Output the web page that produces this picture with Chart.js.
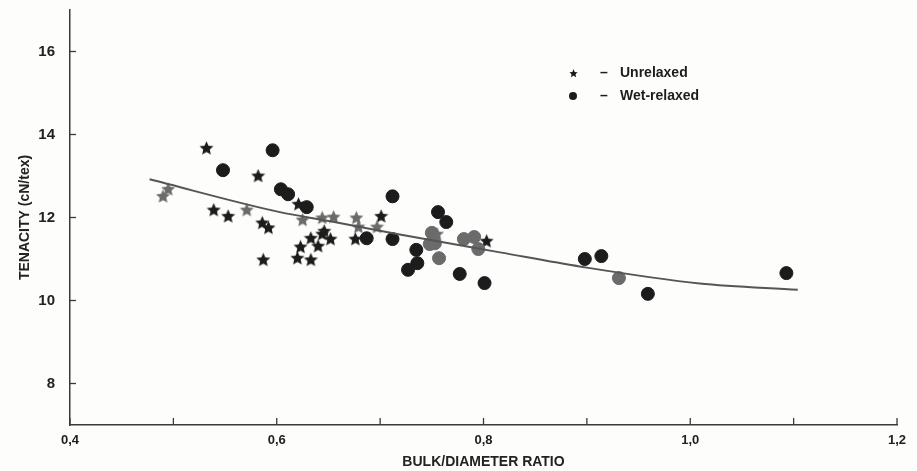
<!DOCTYPE html>
<html>
<head>
<meta charset="utf-8">
<script src="https://cdn.jsdelivr.net/npm/chart.js@4.4.1/dist/chart.umd.min.js"></script>
<style>
    html, body { margin: 0; padding: 0; background: #fdfdfb; }
    #wrap { width: 917px; height: 471px; }
</style>
</head>
<body>
<div id="wrap"><canvas id="scatterChart1"></canvas></div>
<script>
// valores (x = bulk/diameter, y = tenacity)
var unrelaxedDark = [
    [0.532, 13.67], [0.539, 12.18], [0.553, 12.03], [0.582, 13.00], [0.586, 11.87],
    [0.592, 11.75], [0.587, 10.98], [0.621, 12.32], [0.633, 11.50], [0.644, 11.60],
    [0.646, 11.67], [0.652, 11.48], [0.640, 11.31], [0.623, 11.29], [0.620, 11.02],
    [0.633, 10.98], [0.676, 11.48], [0.701, 12.03], [0.803, 11.43]
];
var unrelaxedGrey = [
    [0.490, 12.51], [0.495, 12.68], [0.571, 12.18], [0.625, 11.94], [0.644, 11.99],
    [0.655, 12.01], [0.677, 11.99], [0.679, 11.77], [0.697, 11.77], [0.755, 11.60]
];
var wetDark = [
    [0.548, 13.14], [0.596, 13.62], [0.604, 12.68], [0.611, 12.56], [0.629, 12.25],
    [0.687, 11.50], [0.712, 11.48], [0.712, 12.51], [0.756, 12.13], [0.764, 11.89],
    [0.735, 11.22], [0.736, 10.90], [0.727, 10.74], [0.777, 10.64], [0.801, 10.42],
    [0.898, 11.00], [0.914, 11.07], [0.959, 10.16], [1.093, 10.66]
];
var wetGrey = [
    [0.750, 11.63], [0.748, 11.36], [0.753, 11.38], [0.757, 11.02], [0.781, 11.48],
    [0.791, 11.53], [0.795, 11.24], [0.931, 10.54]
];
var fitCurve = [
    [0.477, 12.92], [0.603, 12.13], [0.652, 11.91], [0.719, 11.59], [0.816, 11.16],
    [0.893, 10.82], [1.009, 10.41], [1.104, 10.26]
];
var xTicks = [0.4, 0.6, 0.8, 1.0, 1.2];
var xMinorTicks = [0.5, 0.7, 0.9, 1.1];
var yTicks = [8, 10, 12, 14, 16];
var legendNames = ["Unrelaxed", "Wet-relaxed"];

function toPoints(arr) {
    return arr.map(function (p) { return { x: p[0], y: p[1] }; });
}

function makeStar(color) {
    var c = document.createElement("canvas");
    c.width = 15; c.height = 15;
    var g = c.getContext("2d");
    g.fillStyle = color;
    g.beginPath();
    for (var i = 0; i < 10; i++) {
        var r = i % 2 === 0 ? 7.4 : 3.4;
        var a = -Math.PI / 2 + i * Math.PI / 5;
        g.lineTo(7.5 + r * Math.cos(a), 7.8 + r * Math.sin(a));
    }
    g.closePath();
    g.fill();
    return c;
}

var DARK = "#1c1c1c";
var GREY = "#6b6b6b";
var starDark = makeStar(DARK);
var starGrey = makeStar(GREY);
var FONT = "'Liberation Sans', Arial, sans-serif";

// marcas hacia adentro de los ejes + leyenda
var extrasPlugin = {
    id: "extras",
    afterDraw: function (chart) {
        var ctx = chart.ctx;
        var xs = chart.scales.x, ys = chart.scales.y;
        var a = chart.chartArea;
        ctx.save();
        ctx.strokeStyle = "#3a3a3a";
        ctx.lineWidth = 1.3;
        xTicks.concat(xMinorTicks).forEach(function (v) {
            var px = xs.getPixelForValue(v);
            ctx.beginPath();
            ctx.moveTo(px, a.bottom);
            ctx.lineTo(px, a.bottom - 7);
            ctx.stroke();
        });
        yTicks.forEach(function (v) {
            var py = ys.getPixelForValue(v);
            ctx.beginPath();
            ctx.moveTo(a.left, py);
            ctx.lineTo(a.left + 6, py);
            ctx.stroke();
        });

        // leyenda
        var lx = a.left + 503, ly = a.top + 63;
        ctx.drawImage(starDark, lx - 4, ly - 4, 9, 9);
        ctx.fillStyle = DARK;
        ctx.beginPath();
        ctx.arc(lx, ly + 23, 4, 0, Math.PI * 2);
        ctx.fill();
        ctx.font = "bold 14px " + FONT;
        ctx.textBaseline = "middle";
        ctx.fillText("\u2013", lx + 27, ly);
        ctx.fillText("\u2013", lx + 27, ly + 23);
        ctx.fillText(legendNames[0], lx + 47, ly);
        ctx.fillText(legendNames[1], lx + 47, ly + 23);
        ctx.restore();
    }
};

var ctx1 = document.getElementById("scatterChart1").getContext("2d");
var scatterChart1 = new Chart(ctx1, {
    type: "scatter",
    data: {
        datasets: [
            {
                type: "line",
                label: "fit",
                data: toPoints(fitCurve),
                borderColor: "#555555",
                borderWidth: 2,
                pointRadius: 0,
                cubicInterpolationMode: "monotone",
                fill: false,
            },
            {
                label: legendNames[0],
                data: toPoints(unrelaxedGrey),
                pointStyle: starGrey,
            },
            {
                label: legendNames[1],
                data: toPoints(wetGrey),
                backgroundColor: GREY,
                borderColor: GREY,
                pointRadius: 6.5,
            },
            {
                label: legendNames[0],
                data: toPoints(unrelaxedDark),
                pointStyle: starDark,
            },
            {
                label: legendNames[1],
                data: toPoints(wetDark),
                backgroundColor: DARK,
                borderColor: DARK,
                pointRadius: 6.5,
            },
        ],
    },
    options: {
        responsive: true,
        maintainAspectRatio: false,
        animation: false,
        layout: { padding: { top: 10, right: 20, left: 17, bottom: 0 } },
        plugins: {
            legend: { display: false },
            tooltip: { enabled: false },
        },
        scales: {
            x: {
                type: "linear",
                min: 0.4,
                max: 1.2,
                afterBuildTicks: function (axis) {
                    axis.ticks = xTicks.map(function (v) { return { value: v }; });
                },
                afterFit: function (axis) {
                    axis.height = 46;
                    axis.paddingLeft = 0;
                    axis.paddingRight = 0;
                },
                grid: { display: false },
                border: { display: true, color: "#3a3a3a", width: 1.5 },
                ticks: {
                    padding: 0,
                    color: "#222",
                    font: { family: FONT, size: 13, weight: "bold" },
                    callback: function (v) { return v.toFixed(1).replace(".", ","); },
                },
                title: {
                    display: true,
                    text: "BULK/DIAMETER RATIO",
                    color: "#222",
                    padding: { top: 0, bottom: 0 },
                    font: { family: FONT, size: 14, weight: "bold" },
                },
            },
            y: {
                type: "linear",
                min: 7,
                max: 17,
                afterBuildTicks: function (axis) {
                    axis.ticks = yTicks.map(function (v) { return { value: v }; });
                },
                afterFit: function (axis) {
                    axis.width = 53;
                    axis.paddingTop = 0;
                    axis.paddingBottom = 0;
                },
                grid: { display: false },
                border: { display: true, color: "#3a3a3a", width: 1.5 },
                ticks: {
                    padding: 7,
                    color: "#222",
                    font: { family: FONT, size: 15, weight: "bold" },
                },
                title: {
                    display: true,
                    text: "TENACITY (cN/tex)",
                    color: "#222",
                    padding: { top: 0, bottom: 0 },
                    font: { family: FONT, size: 14, weight: "bold" },
                },
            },
        },
    },
    plugins: [extrasPlugin],
});
</script>
</body>
</html>
